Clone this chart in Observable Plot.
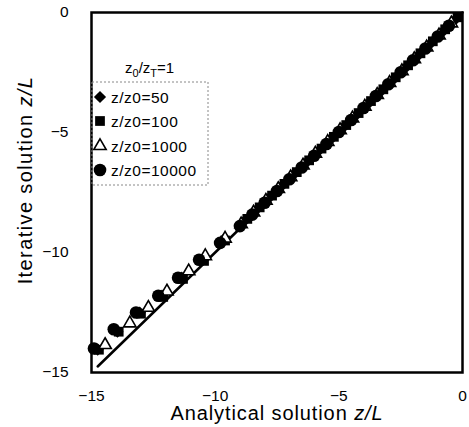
<!DOCTYPE html>
<html><head><meta charset="utf-8">
<script src="https://cdn.jsdelivr.net/npm/d3@7"></script>
<script src="https://cdn.jsdelivr.net/npm/@observablehq/plot@0.6"></script>
<style>body{margin:0;background:#fff} #c{width:469px;height:427px}</style>
</head><body><div id="c"></div>
<script>
const xTicks = [-15, -10, -5, 0];
const yTicks = [-15, -10, -5, 0];
const lineX = [-14.75, 0];
const lineY = [-14.75, 0];

// z/z0 = 50 (diamonds)
const d50X = [-14.75,-13.95,-13.05,-12.15,-11.35,-10.5,-9.65,-8.85,-8.35,-7.85,-7.35,-6.85,-6.35,-5.85,-5.35,-4.85,-4.35,-3.85,-3.35,-2.85,-2.35,-1.85,-1.35,-0.85,-0.35];
const d50Y = [-14.05,-13.3,-12.5,-11.8,-11.05,-10.3,-9.45,-8.72,-8.24,-7.76,-7.27,-6.78,-6.29,-5.8,-5.31,-4.82,-4.33,-3.84,-3.34,-2.85,-2.35,-1.85,-1.35,-0.85,-0.35];
// z/z0 = 100 (squares)
const d100X = [-14.7,-13.9,-13.0,-12.1,-11.3,-10.45,-9.6,-8.7,-8.2,-7.7,-7.2,-6.7,-6.2,-5.7,-5.2,-4.7,-4.2,-3.7,-3.2,-2.7,-2.2,-1.7,-1.2,-0.7,-0.2];
const d100Y = [-14.05,-13.3,-12.55,-11.85,-11.1,-10.35,-9.5,-8.6,-8.12,-7.63,-7.14,-6.65,-6.16,-5.67,-5.18,-4.69,-4.19,-3.69,-3.2,-2.7,-2.2,-1.7,-1.2,-0.7,-0.2];
// z/z0 = 1000 (open triangles)
const d1000X = [-14.45,-13.45,-12.7,-11.95,-11.07,-10.4,-9.6,-8.95,-8.45,-7.95,-7.45,-6.95,-6.45,-5.95,-5.45,-4.95,-4.45,-3.95,-3.45,-2.95,-2.45,-1.95,-1.45,-0.95,-0.45];
const d1000Y = [-13.85,-12.95,-12.3,-11.62,-10.78,-10.15,-9.42,-8.82,-8.33,-7.84,-7.35,-6.86,-6.37,-5.88,-5.39,-4.9,-4.41,-3.92,-3.43,-2.93,-2.44,-1.94,-1.45,-0.95,-0.45];
// z/z0 = 10000 (filled circles)
const d10000X = [-14.9,-14.1,-13.2,-12.3,-11.5,-10.65,-9.8,-9.0,-8.5,-8.0,-7.5,-7.0,-6.5,-6.0,-5.5,-5.0,-4.5,-4.0,-3.5,-3.0,-2.5,-2.0,-1.5,-1.0,-0.55];
const d10000Y = [-14.0,-13.2,-12.5,-11.8,-11.05,-10.3,-9.6,-8.9,-8.42,-7.93,-7.44,-6.95,-6.46,-5.97,-5.48,-4.98,-4.48,-3.98,-3.48,-2.99,-2.49,-1.99,-1.5,-1.0,-0.55];

const legendLabels = ["z/z0=50", "z/z0=100", "z/z0=1000", "z/z0=10000"];

const toRows = (xs, ys) => xs.map((x, i) => ({x, y: ys[i]}));
const font = "'Liberation Sans', Arial, Helvetica, sans-serif";

const plot = Plot.plot({
  width: 469, height: 427,
  marginLeft: 91, marginRight: 7, marginTop: 12, marginBottom: 55,
  x: {domain: [-15, 0]},
  y: {domain: [-15, 0]},
  style: {fontFamily: font, fontSize: "15px", background: "white", color: "black"},
  marks: [
    Plot.axisX({ticks: xTicks, tickSize: 0, tickPadding: 17, label: null, fontSize: 15.5}),
    Plot.axisY({ticks: yTicks, tickSize: 0, tickPadding: 23, label: null, fontSize: 15.5}),
    Plot.line(toRows(lineX, lineY), {x: "x", y: "y", stroke: "black", strokeWidth: 2.5}),
    Plot.dot(toRows(d100X, d100Y), {x: "x", y: "y", symbol: "square", r: 5.5, fill: "black", stroke: "none"}),
    Plot.dot(toRows(d50X, d50Y), {x: "x", y: "y", symbol: "diamond2", r: 5.5, fill: "black", stroke: "none"}),
    Plot.dot(toRows(d1000X, d1000Y), {x: "x", y: "y", symbol: "triangle", r: 4.6, fill: "white", stroke: "black", strokeWidth: 1.6}),
    Plot.dot(toRows(d10000X, d10000Y), {x: "x", y: "y", symbol: "circle", r: 6.3, fill: "black", stroke: "none"}),
    Plot.frame({stroke: "black", strokeWidth: 2.5})
  ]
});
document.getElementById("c").appendChild(plot);

const svg = d3.select(plot);
// axis titles
const xt = svg.append("text").attr("x", 277).attr("y", 420).attr("text-anchor", "middle")
  .style("font-family", font).style("font-size", "20px").style("letter-spacing", "0.9px").attr("fill", "black");
xt.append("tspan").text("Analytical solution ");
xt.append("tspan").attr("font-style", "italic").text("z/L");
const yt = svg.append("text").attr("transform", "translate(32,180) rotate(-90)").attr("text-anchor", "middle")
  .style("font-family", font).style("font-size", "20px").style("letter-spacing", "1.4px").attr("fill", "black");
yt.append("tspan").text("Iterative solution ");
yt.append("tspan").attr("font-style", "italic").text("z/L");

// legend
const lg = svg.append("g").style("font-family", font).attr("fill", "black").attr("text-anchor", "start");
const title = lg.append("text").attr("x", 125).attr("y", 73).attr("text-anchor", "start").style("font-size", "15px");
title.append("tspan").text("z");
title.append("tspan").attr("dy", 4).style("font-size", "11px").text("0");
title.append("tspan").attr("dy", -4).text("/z");
title.append("tspan").attr("dy", 4).style("font-size", "11px").text("T");
title.append("tspan").attr("dy", -4).text("=1");
lg.append("rect").attr("x", 92).attr("y", 82).attr("width", 116).attr("height", 103)
  .attr("fill", "none").attr("stroke", "#888").attr("stroke-width", 1).attr("stroke-dasharray", "2,2");
const syms = [
  {s: d3.symbolDiamond2, size: 95, fill: "black", stroke: "none"},
  {s: d3.symbolSquare, size: 95, fill: "black", stroke: "none"},
  {s: d3.symbolTriangle, size: 66, fill: "white", stroke: "black"},
  {s: d3.symbolCircle, size: 125, fill: "black", stroke: "none"}
];
const rowsY = [97, 121, 146, 170];
legendLabels.forEach((lab, i) => {
  lg.append("path").attr("d", d3.symbol(syms[i].s, syms[i].size)())
    .attr("transform", `translate(100,${rowsY[i]})`)
    .attr("fill", syms[i].fill).attr("stroke", syms[i].stroke).attr("stroke-width", 1.6);
  lg.append("text").attr("x", 111).attr("y", rowsY[i] + 5.5).attr("text-anchor", "start")
    .style("font-size", "15.5px").style("letter-spacing", "0.5px").text(lab);
});
</script>
</body></html>
